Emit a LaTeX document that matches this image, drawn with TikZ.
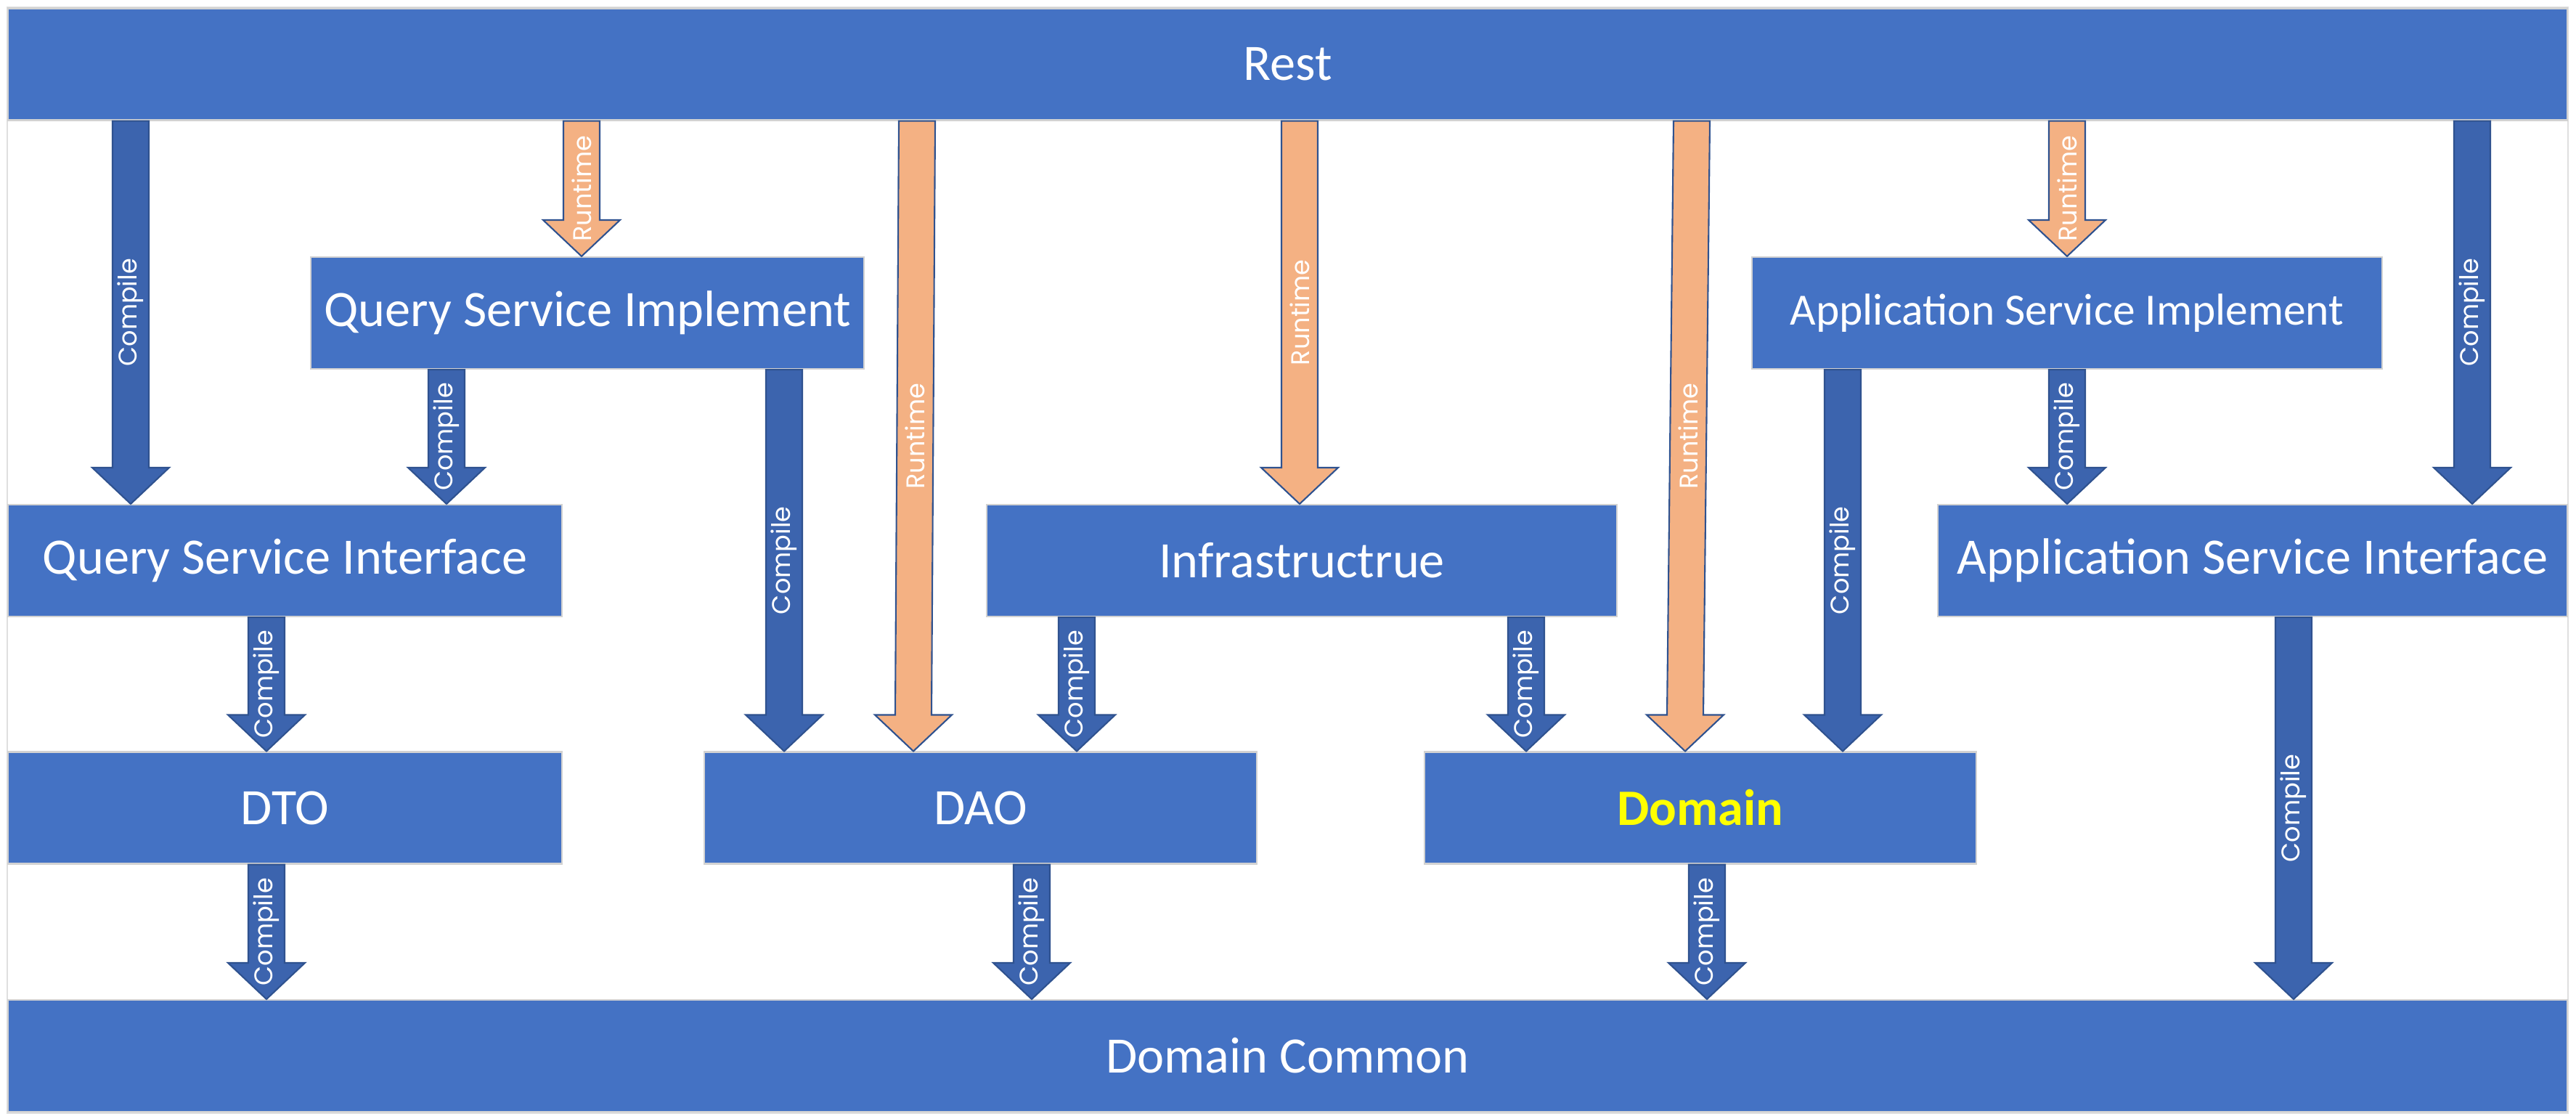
\documentclass[tikz,border=0pt]{standalone}
\usepackage{fontspec}
\usetikzlibrary{calc}
\newfontfamily\layerfont{Carlito}
\newfontfamily\labelfont{Poppins}
\definecolor{boxblue}{HTML}{4472C4}
\definecolor{arrowblue}{HTML}{3C64AE}
\definecolor{edgeblue}{HTML}{2F528F}
\definecolor{arroworange}{HTML}{F4B183}
\definecolor{domyellow}{HTML}{FFFF00}
\tikzset{
    layer/.style={rectangle, fill=boxblue, draw=gray!35, line width=0.6pt, text=white, minimum height=1.54cm, inner sep=0pt, font=\layerfont\fontsize{20}{22}\selectfont},
    compile/.style={fill=arrowblue, draw=edgeblue, line width=0.6pt},
    runtime/.style={fill=arroworange, draw=edgeblue, line width=0.6pt},
    deplabel/.style={rotate=90, text=white, inner sep=0pt, font=\labelfont\fontsize{10}{12}\selectfont}
}
% block arrow: style, start, tip, label
\newcommand{\deparrow}[4]{
    \path[#1] let \p1=(#2), \p2=(#3) in
        ({\x1-0.25cm},\y1) -- ({\x2-0.25cm},{\y2+0.5cm}) -- ({\x2-0.53cm},{\y2+0.5cm}) -- (\x2,\y2)
        -- ({\x2+0.53cm},{\y2+0.5cm}) -- ({\x2+0.25cm},{\y2+0.5cm}) -- ({\x1+0.25cm},\y1) -- cycle;
    \node[deplabel] at ($(#2)!0.5!(#3)$) {#4};
}
\begin{document}
\begin{tikzpicture}
    \useasboundingbox (0,0) rectangle (35.48,-15.40);
    \draw[gray!25, line width=0.4pt] (0.10,-0.10) rectangle (35.37,-15.33);

    % layers
    \node[layer, minimum width=35.25cm] (rest) at (17.735,-0.885) {Rest};
    \node[layer, minimum width=7.62cm] (qsimpl) at (8.09,-4.31) {Query Service Implement};
    \node[layer, minimum width=8.68cm, font=\layerfont\fontsize{17.5}{20}\selectfont] (asimpl) at (28.47,-4.31) {Application Service Implement};
    \node[layer, minimum width=7.63cm] (qsif) at (3.925,-7.72) {Query Service Interface};
    \node[layer, minimum width=8.68cm] (infra) at (17.93,-7.72) {Infrastructrue};
    \node[layer, minimum width=8.67cm] (asif) at (31.025,-7.72) {Application Service Interface};
    \node[layer, minimum width=7.63cm] (dto) at (3.925,-11.125) {DTO};
    \node[layer, minimum width=7.61cm] (dao) at (13.505,-11.125) {DAO};
    \node[layer, minimum width=7.60cm, text=domyellow, font=\layerfont\bfseries\fontsize{20}{22}\selectfont] (domain) at (23.42,-11.125) {Domain};
    \node[layer, minimum width=35.25cm] (common) at (17.735,-14.54) {Domain Common};

    % arrow columns
    \coordinate (c1) at (1.80,0);
    \coordinate (c2) at (8.01,0);
    \coordinate (c3a) at (12.63,0);
    \coordinate (c3b) at (12.58,0);
    \coordinate (c4) at (17.90,0);
    \coordinate (c5a) at (23.30,0);
    \coordinate (c5b) at (23.21,0);
    \coordinate (c6) at (28.47,0);
    \coordinate (c7) at (34.05,0);
    \coordinate (c8) at (6.15,0);
    \coordinate (c9) at (10.80,0);
    \coordinate (c10) at (25.38,0);
    \coordinate (c12) at (3.67,0);
    \coordinate (c13) at (14.83,0);
    \coordinate (c14) at (21.02,0);
    \coordinate (c15) at (31.59,0);
    \coordinate (c17) at (14.21,0);
    \coordinate (c18) at (23.51,0);

    % from Rest
    \deparrow{compile}{rest.south -| c1}{qsif.north -| c1}{Compile}
    \deparrow{runtime}{rest.south -| c2}{qsimpl.north -| c2}{Runtime}
    \deparrow{runtime}{rest.south -| c3a}{dao.north -| c3b}{Runtime}
    \deparrow{runtime}{rest.south -| c4}{infra.north -| c4}{Runtime}
    \deparrow{runtime}{rest.south -| c5a}{domain.north -| c5b}{Runtime}
    \deparrow{runtime}{rest.south -| c6}{asimpl.north -| c6}{Runtime}
    \deparrow{compile}{rest.south -| c7}{asif.north -| c7}{Compile}

    % from the implementations
    \deparrow{compile}{qsimpl.south -| c8}{qsif.north -| c8}{Compile}
    \deparrow{compile}{qsimpl.south -| c9}{dao.north -| c9}{Compile}
    \deparrow{compile}{asimpl.south -| c10}{domain.north -| c10}{Compile}
    \deparrow{compile}{asimpl.south -| c6}{asif.north -| c6}{Compile}

    % from the interfaces
    \deparrow{compile}{qsif.south -| c12}{dto.north -| c12}{Compile}
    \deparrow{compile}{infra.south -| c13}{dao.north -| c13}{Compile}
    \deparrow{compile}{infra.south -| c14}{domain.north -| c14}{Compile}
    \deparrow{compile}{asif.south -| c15}{common.north -| c15}{Compile}

    % to Domain Common
    \deparrow{compile}{dto.south -| c12}{common.north -| c12}{Compile}
    \deparrow{compile}{dao.south -| c17}{common.north -| c17}{Compile}
    \deparrow{compile}{domain.south -| c18}{common.north -| c18}{Compile}
\end{tikzpicture}
\end{document}
